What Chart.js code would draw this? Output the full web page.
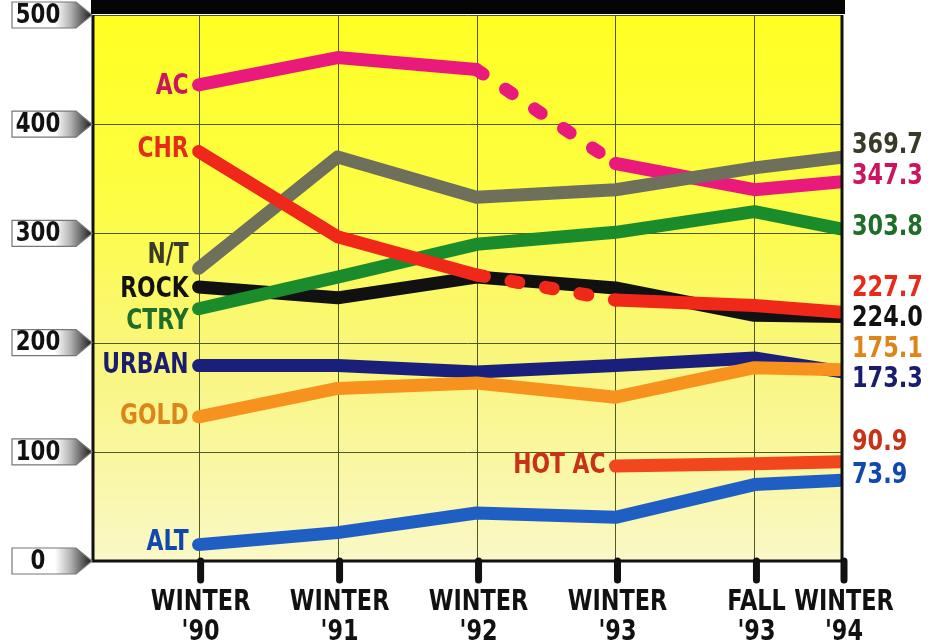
<!DOCTYPE html>
<html>
<head>
<meta charset="utf-8">
<script src="https://cdn.jsdelivr.net/npm/chart.js@4/dist/chart.umd.min.js"></script>
<style>
  html, body { margin: 0; padding: 0; background: #ffffff; }
  #wrap { width: 943px; height: 643px; }
</style>
</head>
<body>
<div id="wrap"><canvas id="chart" width="943" height="643"></canvas></div>
<script>
// periods on the x axis (position in years after winter '90)
const periods = [["WINTER", "'90"], ["WINTER", "'91"], ["WINTER", "'92"], ["WINTER", "'93"], ["FALL", "'93"], ["WINTER", "'94"]];
const periodPos = [0, 1, 2, 3, 4, 4.63];
const yTicks = [0, 100, 200, 300, 400, 500];

const acVals    = [436, 461, 450, 364, 340, 347.3];
const chrVals   = [375, 297, 262, 239, 234, 227.7];
const ntVals    = [268, 370, 333, 340, 360, 369.7];
const rockVals  = [251, 241, 260, 250, 225, 224.0];
const ctryVals  = [231, 260, 290, 301, 320, 303.8];
const urbanVals = [179, 179, 173, 179, 186, 173.3];
const goldVals  = [132, 158, 163, 150, 177, 175.1];
const hotAcVals = [null, null, null, 87, 89, 90.9];
const altVals   = [15, 26, 44, 40, 70, 73.9];

const fontFace = '"DejaVu Sans", "Liberation Sans", sans-serif';

// name, values, line colour, label colour, left label y offset, right label y offset, dashed '92-'93
const series = [
  { name: 'ALT',    vals: altVals,   color: '#1f5fc4', text: '#1048b0', dl: -2,  dr: -5,  dash: false },
  { name: 'HOT AC', vals: hotAcVals, color: '#f2461c', text: '#c83218', dl: 0,   dr: -19, dash: false },
  { name: 'CHR',    vals: chrVals,   color: '#f0281a', text: '#e82a1a', dl: -2,  dr: -24, dash: true },
  { name: 'N/T',    vals: ntVals,    color: '#6e705c', text: '#3a3a28', dl: -13, dr: -12, dash: false },
  { name: 'AC',     vals: acVals,    color: '#ea1a7c', text: '#cc1460', dl: 2,   dr: -5,  dash: true },
  { name: 'GOLD',   vals: goldVals,  color: '#f7921e', text: '#de851a', dl: 0,   dr: -20, dash: false },
  { name: 'URBAN',  vals: urbanVals, color: '#1b1f7c', text: '#1a1d6e', dl: 0,   dr: 8,   dash: false },
  { name: 'CTRY',   vals: ctryVals,  color: '#1a8c2c', text: '#1e6e2a', dl: 13,  dr: -2,  dash: false },
  { name: 'ROCK',   vals: rockVals,  color: '#111111', text: '#111111', dl: 3,   dr: 2,   dash: false }
];

const datasets = series.map(s => ({
  label: s.name,
  data: periodPos.map((x, i) => ({ x, y: s.vals[i] })),
  borderColor: s.color,
  borderWidth: 13,
  borderCapStyle: 'round',
  borderJoinStyle: 'round',
  pointRadius: 0,
  tension: 0,
  segment: {
    borderDash: ctx => (s.dash && ctx.p0DataIndex === 2) ? [8, 27] : undefined
  }
}));

// condensed bold text: squeeze the glyphs horizontally
function narrowText(ctx, text, x, y, align, sx) {
  ctx.save();
  ctx.translate(x, y);
  ctx.scale(sx, 1);
  ctx.textAlign = align;
  ctx.fillText(text, 0, 0);
  ctx.restore();
}

const backdrop = {
  id: 'backdrop',
  beforeDraw(chart) {
    const { ctx, chartArea: a, scales: { x, y } } = chart;
    ctx.save();
    const g = ctx.createLinearGradient(0, a.top, 0, a.bottom);
    g.addColorStop(0, '#ffff22');
    g.addColorStop(0.35, '#fdfd45');
    g.addColorStop(0.62, '#f9f67c');
    g.addColorStop(1, '#faf8c6');
    ctx.fillStyle = g;
    ctx.fillRect(a.left, a.top, a.right - a.left, a.bottom - a.top);

    ctx.strokeStyle = '#4e5a22';
    ctx.lineWidth = 1;
    yTicks.forEach(v => {
      const py = Math.round(y.getPixelForValue(v)) + 0.5;
      ctx.beginPath(); ctx.moveTo(a.left, py); ctx.lineTo(a.right, py); ctx.stroke();
    });
    periodPos.forEach(p => {
      const px = Math.round(x.getPixelForValue(p)) + 0.5;
      ctx.beginPath(); ctx.moveTo(px, a.top); ctx.lineTo(px, a.bottom); ctx.stroke();
    });
    ctx.restore();
  },
  afterDatasetsDraw(chart) {
    const { ctx, chartArea: a, scales: { x, y } } = chart;
    ctx.save();
    // frame
    ctx.fillStyle = '#050505';
    ctx.fillRect(a.left - 2, 0, a.right - a.left + 5, a.top - 1);
    ctx.strokeStyle = '#111';
    ctx.lineWidth = 3;
    ctx.beginPath();
    ctx.moveTo(a.left, a.top); ctx.lineTo(a.left, a.bottom);
    ctx.lineTo(a.right, a.bottom); ctx.lineTo(a.right, a.top);
    ctx.stroke();

    // x ticks and labels
    ctx.lineCap = 'round';
    ctx.lineWidth = 7;
    ctx.textBaseline = 'middle';
    ctx.fillStyle = '#111';
    ctx.font = 'bold 28px ' + fontFace;
    periodPos.forEach((p, i) => {
      const px = x.getPixelForValue(p) + 2;
      ctx.beginPath(); ctx.moveTo(px, a.bottom); ctx.lineTo(px, a.bottom + 19); ctx.stroke();
      narrowText(ctx, periods[i][0], px, a.bottom + 42, 'center', 0.8);
      narrowText(ctx, periods[i][1], px, a.bottom + 72, 'center', 0.8);
    });

    // y tick tags
    ctx.lineCap = 'butt';
    yTicks.forEach(v => {
      const py = y.getPixelForValue(v);
      const g = ctx.createLinearGradient(55, 0, a.left, 0);
      g.addColorStop(0, '#ffffff');
      g.addColorStop(0.4, '#b5b5b5');
      g.addColorStop(1, '#141414');
      ctx.beginPath();
      ctx.moveTo(12, py - 13); ctx.lineTo(76, py - 13); ctx.lineTo(a.left - 1, py);
      ctx.lineTo(76, py + 13); ctx.lineTo(12, py + 13); ctx.closePath();
      ctx.fillStyle = g;
      ctx.fill();
      ctx.lineWidth = 1.2;
      ctx.strokeStyle = '#777';
      ctx.stroke();
      ctx.fillStyle = '#111';
      ctx.font = 'bold 26px ' + fontFace;
      narrowText(ctx, String(v), 38, py + 1, 'center', 0.82);
    });

    // series labels on the left and final values on the right
    ctx.font = 'bold 28px ' + fontFace;
    series.forEach(s => {
      const first = s.vals.findIndex(v => v !== null);
      const px = x.getPixelForValue(periodPos[first]);
      const py = y.getPixelForValue(s.vals[first]);
      ctx.fillStyle = s.text;
      narrowText(ctx, s.name, px - 10, py + s.dl, 'right', 0.78);

      const last = s.vals.length - 1;
      const ry = y.getPixelForValue(s.vals[last]);
      narrowText(ctx, s.vals[last].toFixed(1), a.right + 10, ry + s.dr, 'left', 0.8);
    });
    ctx.restore();
  }
};

new Chart(document.getElementById('chart').getContext('2d'), {
  type: 'line',
  data: { datasets },
  options: {
    responsive: false,
    animation: false,
    layout: { padding: { left: 93, right: 101, top: 15, bottom: 82 } },
    plugins: { legend: { display: false }, tooltip: { enabled: false }, title: { display: false } },
    scales: {
      x: { type: 'linear', display: false, min: -0.76, max: 4.63 },
      y: { type: 'linear', display: false, min: 0, max: 500 }
    }
  },
  plugins: [backdrop]
});
</script>
</body>
</html>
